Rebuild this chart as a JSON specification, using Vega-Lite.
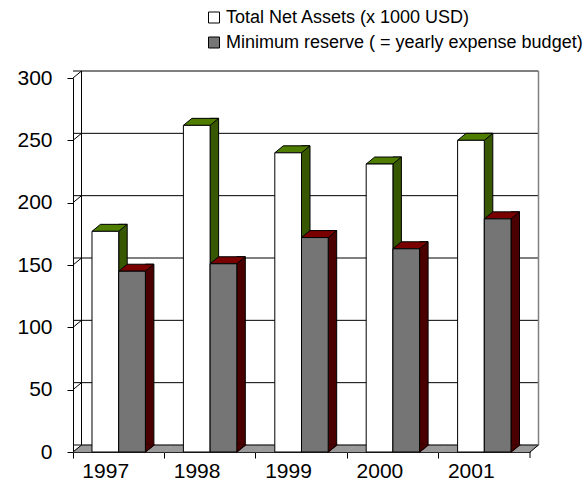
{
  "$schema": "https://vega.github.io/schema/vega-lite/v6.json",
  "width": 457,
  "height": 374,
  "autosize": "none",
  "padding": {"left": 73, "top": 78, "right": 56, "bottom": 41},
  "background": "white",
  "config": {
    "view": {"stroke": null},
    "axis": {"labelFont": "Liberation Sans", "labelColor": "black", "domainColor": "black", "tickColor": "black", "grid": false, "title": null, "labelFontSize": 21, "tickSize": 6},
    "axisX": {"bandPosition": 0, "labelAlign": "center", "labelOffset": -13, "labelAngle": 0, "labelPadding": 2},
    "axisY": {"labelPadding": 15, "tickCount": 7}
  },
  "datasets": {
    "bars": [
      {"year": "1997", "series": "Total Net Assets (x 1000 USD)", "value": 177},
      {"year": "1997", "series": "Minimum reserve ( = yearly expense budget)", "value": 145},
      {"year": "1998", "series": "Total Net Assets (x 1000 USD)", "value": 262},
      {"year": "1998", "series": "Minimum reserve ( = yearly expense budget)", "value": 151},
      {"year": "1999", "series": "Total Net Assets (x 1000 USD)", "value": 240},
      {"year": "1999", "series": "Minimum reserve ( = yearly expense budget)", "value": 172},
      {"year": "2000", "series": "Total Net Assets (x 1000 USD)", "value": 231},
      {"year": "2000", "series": "Minimum reserve ( = yearly expense budget)", "value": 163},
      {"year": "2001", "series": "Total Net Assets (x 1000 USD)", "value": 250},
      {"year": "2001", "series": "Minimum reserve ( = yearly expense budget)", "value": 187}
    ],
    "ticks": [{"v": 0}, {"v": 50}, {"v": 100}, {"v": 150}, {"v": 200}, {"v": 250}, {"v": 300}],
    "frame": [{"part": "wall"}]
  },
  "data": {"name": "bars"},
  "layer": [
    {
      "transform": [{"filter": "indexof(datum.series, 'Total') === 0"}],
      "mark": {"type": "point", "shape": "M-45.7,0L45.7,0L54.2,-7L-37.2,-7Z", "size": 4, "filled": true, "opacity": 1, "fill": "#999999", "stroke": "#999999", "strokeWidth": 0.5},
      "encoding": {
        "x": {"field": "year", "type": "nominal", "title": null, "scale": {"paddingInner": 0, "paddingOuter": 0}},
        "y": {"datum": 0, "type": "quantitative", "title": null, "scale": {"domain": [0, 300], "nice": false}}
      }
    },
    {
      "data": {"name": "ticks"},
      "mark": {"type": "rule", "xOffset": 8.5, "yOffset": -7, "color": "black", "strokeWidth": 1},
      "encoding": {"y": {"field": "v", "type": "quantitative", "title": null}}
    },
    {
      "data": {"name": "frame"},
      "mark": {"type": "rule", "xOffset": 8.5, "yOffset": -7, "y2Offset": -7, "color": "black", "strokeWidth": 1},
      "encoding": {
        "x": {"value": 0},
        "y": {"datum": 0, "type": "quantitative", "title": null},
        "y2": {"datum": 300}
      }
    },
    {
      "data": {"name": "frame"},
      "mark": {"type": "rule", "xOffset": 8.5, "yOffset": -7, "y2Offset": -7, "color": "#808080", "strokeWidth": 1.5},
      "encoding": {
        "x": {"value": {"expr": "width"}},
        "y": {"datum": 0, "type": "quantitative", "title": null},
        "y2": {"datum": 300}
      }
    },
    {
      "data": {"name": "ticks"},
      "mark": {"type": "point", "shape": "M0,0L8.5,-7", "size": 4, "filled": false, "opacity": 1, "stroke": "black", "strokeWidth": 1},
      "encoding": {
        "x": {"value": 0},
        "y": {"field": "v", "type": "quantitative", "title": null}
      }
    },
    {
      "data": {"name": "frame"},
      "mark": {"type": "point", "shape": "M0,0L8.5,-7", "size": 4, "filled": false, "opacity": 1, "stroke": "black", "strokeWidth": 1},
      "encoding": {
        "x": {"value": {"expr": "width"}},
        "y": {"datum": 0, "type": "quantitative", "title": null}
      }
    },
    {
      "data": {"name": "frame"},
      "mark": {"type": "rule", "y2Offset": 6, "color": "black", "strokeWidth": 1},
      "encoding": {
        "x": {"value": {"expr": "width"}},
        "y": {"datum": 0, "type": "quantitative", "title": null},
        "y2": {"datum": 0}
      }
    },
    {
      "transform": [{"filter": "indexof(datum.series, 'Total') === 0"}],
      "mark": {"type": "bar", "width": 8.5, "xOffset": 4.25, "yOffset": -7, "y2Offset": -7, "fill": "#375800", "stroke": "black", "strokeWidth": 1},
      "encoding": {
        "x": {"field": "year", "type": "nominal", "title": null},
        "y": {"field": "value", "type": "quantitative", "title": null}
      }
    },
    {
      "transform": [{"filter": "indexof(datum.series, 'Total') !== 0"}],
      "mark": {"type": "bar", "width": 8.5, "xOffset": 30.95, "yOffset": -7, "y2Offset": -7, "fill": "#4a0000", "stroke": "black", "strokeWidth": 1},
      "encoding": {
        "x": {"field": "year", "type": "nominal", "title": null},
        "y": {"field": "value", "type": "quantitative", "title": null}
      }
    },
    {
      "mark": {"type": "point", "shape": "M13.35,-7L13.35,0L21.85,-7Z", "size": 4, "filled": true, "opacity": 1, "strokeWidth": 1.2},
      "encoding": {
        "x": {"field": "year", "type": "nominal", "title": null},
        "xOffset": {"field": "series", "type": "nominal", "scale": {"domain": ["Total Net Assets (x 1000 USD)", "Minimum reserve ( = yearly expense budget)"], "paddingInner": 0, "paddingOuter": 0.7116}},
        "y": {"datum": 0, "type": "quantitative", "title": null},
        "fill": {"condition": {"test": "indexof(datum.series, 'Total') === 0", "value": "#375800"}, "value": "#4a0000"},
        "stroke": {"condition": {"test": "indexof(datum.series, 'Total') === 0", "value": "#375800"}, "value": "#4a0000"}
      }
    },
    {
      "mark": {"type": "point", "shape": "M13.35,0L21.85,-7", "size": 4, "filled": false, "opacity": 1, "stroke": "black", "strokeWidth": 1},
      "encoding": {
        "x": {"field": "year", "type": "nominal", "title": null},
        "xOffset": {"field": "series", "type": "nominal"},
        "y": {"datum": 0, "type": "quantitative", "title": null}
      }
    },
    {
      "mark": {"type": "point", "shape": "M-13.35,0L-4.85,-7L21.85,-7L13.35,0Z", "size": 4, "filled": true, "opacity": 1, "stroke": "black", "strokeWidth": 1},
      "encoding": {
        "x": {"field": "year", "type": "nominal", "title": null},
        "xOffset": {"field": "series", "type": "nominal"},
        "y": {"field": "value", "type": "quantitative", "title": null},
        "fill": {"condition": {"test": "indexof(datum.series, 'Total') === 0", "value": "#4e7d00"}, "value": "#7a0000"}
      }
    },
    {
      "mark": {"type": "bar", "stroke": "black", "strokeWidth": 1},
      "encoding": {
        "x": {"field": "year", "type": "nominal", "title": null},
        "xOffset": {"field": "series", "type": "nominal"},
        "y": {"field": "value", "type": "quantitative", "title": null},
        "fill": {"field": "series", "type": "nominal",
                 "scale": {"domain": ["Total Net Assets (x 1000 USD)", "Minimum reserve ( = yearly expense budget)"], "range": ["#ffffff", "#757575"]},
                 "legend": {"orient": "none", "legendX": 132, "legendY": -69.5, "title": null, "symbolType": "square", "symbolSize": 121, "symbolStrokeColor": "black", "symbolStrokeWidth": 1, "symbolOpacity": 1, "labelFont": "Liberation Sans", "labelFontSize": 18, "labelColor": "black", "labelOffset": 3, "rowPadding": 7, "padding": 0, "labelLimit": 500}}
      }
    }
  ]
}
